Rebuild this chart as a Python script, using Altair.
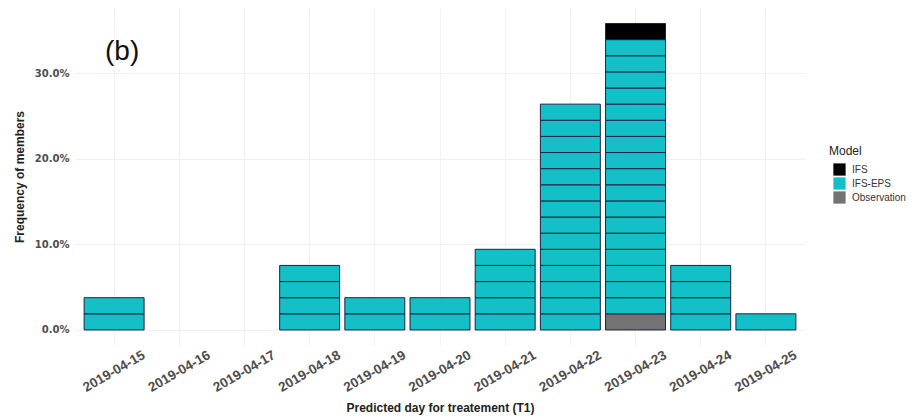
import altair as alt
import pandas as pd

dates = ["2019-04-15", "2019-04-16", "2019-04-17", "2019-04-18", "2019-04-19",
         "2019-04-20", "2019-04-21", "2019-04-22", "2019-04-23", "2019-04-24", "2019-04-25"]
obs_counts = [0, 0, 0, 0, 0, 0, 0, 0, 1, 0, 0]
eps_counts = [2, 0, 0, 4, 2, 2, 5, 14, 17, 4, 1]
ifs_counts = [0, 0, 0, 0, 0, 0, 0, 0, 1, 0, 0]
models = ["IFS", "IFS-EPS", "Observation"]
colors = ["#000000", "#13C0C7", "#737373"]
label_text = "(b)"
label_date = "2019-04-15"
label_pos = 0.325

total = sum(obs_counts) + sum(eps_counts) + sum(ifs_counts)
rows = []
for i, d in enumerate(dates):
    k = 0
    for model, counts in (("Observation", obs_counts), ("IFS-EPS", eps_counts), ("IFS", ifs_counts)):
        for _ in range(counts[i]):
            rows.append({"date": d, "Model": model, "freq": 1.0 / total, "ord": k})
            k += 1
df = pd.DataFrame(rows)

xscale = alt.Scale(domain=dates, paddingInner=0.08, paddingOuter=0.14)
yscale = alt.Scale(domain=[-0.0176, 0.3766], nice=False, zero=False)

bars = alt.Chart(df).mark_bar(stroke="#1c2448", strokeWidth=1, opacity=1).encode(
    x=alt.X("date:N", scale=xscale, sort=dates,
            axis=alt.Axis(title="Predicted day for treatement (T1)", labelAngle=-30,
                          labelAlign="center", labelBaseline="middle", labelPadding=26,
                          labelFontSize=13.5, labelFontWeight="bold", labelColor="#4d4d4d",
                          labelFont="Liberation Sans",
                          titleFont="Liberation Sans", titleFontSize=12, titleFontWeight="bold",
                          titleColor="#222222", titlePadding=9,
                          ticks=False, domain=False, grid=True, gridColor="#f2f2f2")),
    y=alt.Y("freq:Q", stack="zero", scale=yscale,
            axis=alt.Axis(title="Frequency of members", format=".1%", values=[0, 0.1, 0.2, 0.3],
                          labelFontSize=10, labelFontWeight="bold", labelColor="#4d4d4d",
                          labelFont="DejaVu Sans", labelPadding=6,
                          titleFont="Liberation Sans", titleFontSize=12, titleFontWeight="bold",
                          titleColor="#222222", titlePadding=8,
                          ticks=False, domain=False, grid=True, gridColor="#f0f0f0")),
    color=alt.Color("Model:N", scale=alt.Scale(domain=models, range=colors),
                    legend=alt.Legend(orient="none", legendX=754, legendY=138,
                                      title="Model", titleFont="Liberation Sans", titleFontSize=12,
                                      titleFontWeight="normal", titleColor="#222222",
                                      labelFont="Liberation Sans", labelFontSize=10,
                                      labelColor="#333333", symbolType="square", symbolSize=150,
                                      symbolStrokeWidth=0, rowPadding=1, symbolOffset=4,
                                      labelOffset=6)),
    order=alt.Order("ord:Q", sort="ascending"),
)

ann = alt.Chart(pd.DataFrame({"date": [label_date], "v": [label_pos], "t": [label_text]})).mark_text(
    fontSize=28, font="Liberation Sans", color="#111111", align="center", baseline="middle", dx=8
).encode(
    x=alt.X("date:N", scale=xscale, sort=dates),
    y=alt.Y("v:Q", scale=yscale),
    text="t:N",
)

chart = alt.layer(bars, ann).properties(
    width=730, height=337,
    autosize=alt.AutoSizeParams(type="none"),
    padding={"left": 67, "top": 0, "right": 104, "bottom": 74},
).configure_view(stroke=None)

chart.save("out.html", embed_options={"renderer": "svg", "actions": False})
